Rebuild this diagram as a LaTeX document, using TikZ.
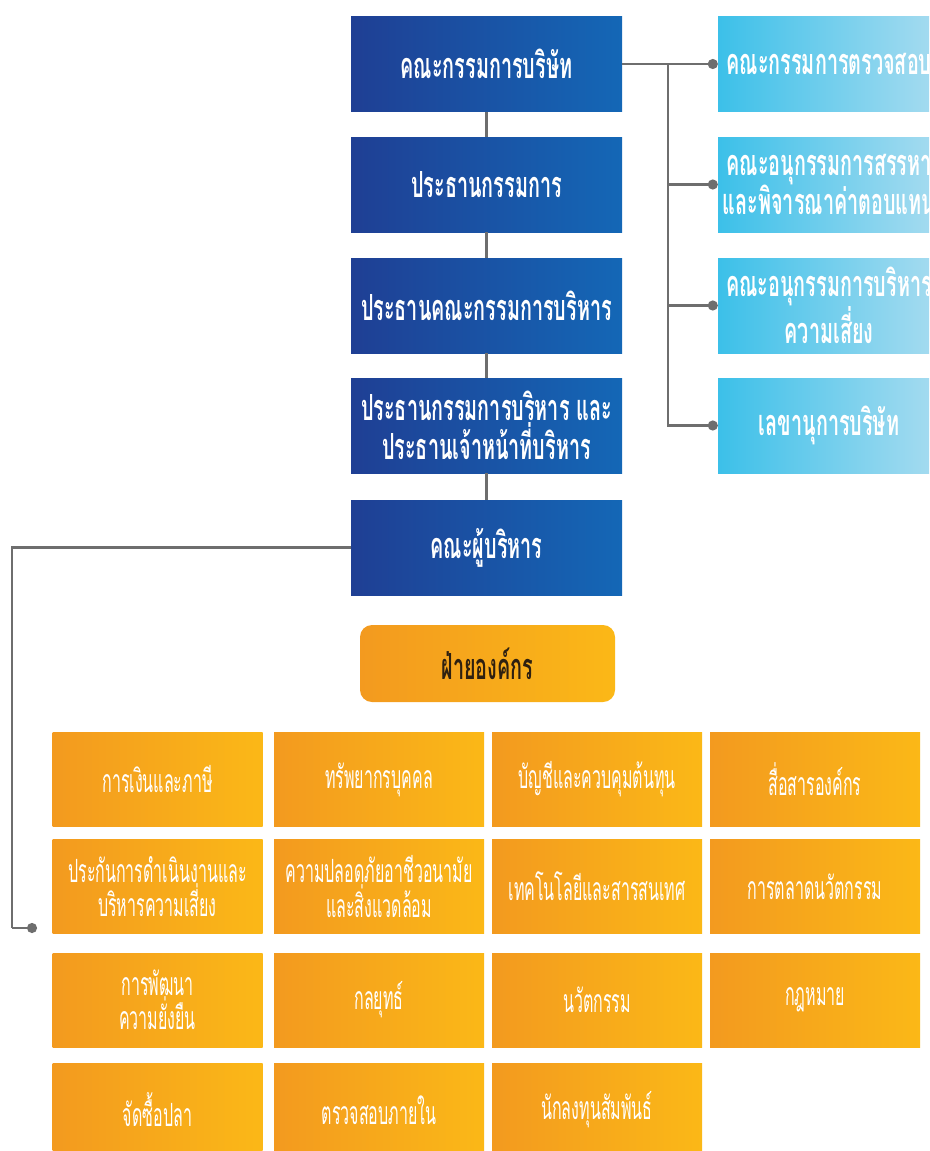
\documentclass[tikz,border=0pt]{standalone}
\usepackage{fontspec}
\newfontfamily\thfont[Script=Thai,FakeStretch=0.55]{Loma}
\newfontfamily\thlight[Script=Thai,FakeStretch=0.5]{Loma}
\usetikzlibrary{arrows.meta}
\definecolor{bl}{HTML}{1F3F94}
\definecolor{br}{HTML}{1467B6}
\definecolor{cl}{HTML}{3CC0E9}
\definecolor{cr}{HTML}{A8DCF0}
\definecolor{ol}{HTML}{F39A1F}
\definecolor{orr}{HTML}{FBB817}
\definecolor{ln}{HTML}{6E6E6E}
\definecolor{dk}{HTML}{2E2010}
\tikzset{
  bluebox/.style={minimum width=271pt,minimum height=95pt,inner sep=0pt,
    left color=bl,right color=br,text=white,align=center,
    font=\thfont\bfseries\fontsize{36}{39}\selectfont},
  cyanbox/.style={minimum width=222pt,minimum height=95pt,inner sep=0pt,
    left color=cl,right color=cr,text=white,align=center,
    font=\thfont\bfseries\fontsize{36}{36}\selectfont},
  orbox/.style={minimum width=210pt,minimum height=94pt,inner sep=0pt,
    left color=ol,right color=orr,text=white,align=center,
    font=\thlight\fontsize{32}{30}\selectfont},
  headbox/.style={minimum width=255pt,minimum height=77pt,inner sep=0pt,
    rounded corners=12pt,left color=ol,right color=orr,text=dk,align=center,
    font=\thfont\bfseries\fontsize{36}{36}\selectfont},
  conn/.style={draw=ln,line width=2.5pt},
  dotend/.style={conn,-{Circle[length=10pt,width=10pt]}}
}
\begin{document}
\begin{tikzpicture}[x=1pt,y=-1pt]
\useasboundingbox (0,0) rectangle (929,1151);
\clip (0,0) rectangle (929,1151);
% blue chain
\node[bluebox] (b1) at (486.5,64) {คณะกรรมการบริษัท};
\node[bluebox] (b2) at (486.5,184.5) {ประธานกรรมการ};
\node[bluebox] (b3) at (486.5,305.5) {ประธานคณะกรรมการบริหาร};
\node[bluebox] (b4) at (486.5,425.5) {ประธานกรรมการบริหาร และ\\ประธานเจ้าหน้าที่บริหาร};
\node[bluebox] (b5) at (486.5,547.5) {คณะผู้บริหาร};
% cyan committees
\node[cyanbox] (la) at (829,64) {คณะกรรมการตรวจสอบ};
\node[cyanbox] (lb) at (829,184.5) {คณะอนุกรรมการสรรหา\\และพิจารณาค่าตอบแทน};
\node[cyanbox] (lc) at (829,305.5) {คณะอนุกรรมการบริหาร\\ความเสี่ยง};
\node[cyanbox] (ld) at (829,425.5) {เลขานุการบริษัท};
% header
\node[headbox] (h) at (487.5,663.5) {ฝ่ายองค์กร};
% grid
\node[orbox] (g11) at (157.5,779.5) {การเงินและภาษี};
\node[orbox] (g12) at (379,779.5) {ทรัพยากรบุคคล};
\node[orbox] (g13) at (597,779.5) {บัญชีและควบคุมต้นทุน};
\node[orbox] (g14) at (815,779.5) {สื่อสารองค์กร};
\node[orbox] (g21) at (157.5,886.5) {ประกันการดำเนินงานและ\\บริหารความเสี่ยง};
\node[orbox] (g22) at (379,886.5) {ความปลอดภัยอาชีวอนามัย\\และสิ่งแวดล้อม};
\node[orbox] (g23) at (597,886.5) {เทคโนโลยีและสารสนเทศ};
\node[orbox] (g24) at (815,886.5) {การตลาดนวัตกรรม};
\node[orbox] (g31) at (157.5,1000) {การพัฒนา\\ความยั่งยืน};
\node[orbox] (g32) at (379,1000) {กลยุทธ์};
\node[orbox] (g33) at (597,1000) {นวัตกรรม};
\node[orbox] (g34) at (815,1000) {กฎหมาย};
\node[orbox] (g41) at (157.5,1110) {จัดซื้อปลา};
\node[orbox] (g42) at (379,1110) {ตรวจสอบภายใน};
\node[orbox] (g43) at (597,1110) {นักลงทุนสัมพันธ์};
% connectors
\draw[conn] (b1.south) -- (b2.north);
\draw[conn] (b2.south) -- (b3.north);
\draw[conn] (b3.south) -- (b4.north);
\draw[conn] (b4.south) -- (b5.north);
\coordinate (j) at (668,64);
\draw[dotend] (b1.east) -- (la.west);
\draw[dotend] (j) |- (lb.west);
\draw[dotend] (j) |- (lc.west);
\draw[dotend] (j) |- (ld.west);
\coordinate (k) at (12,928);
\coordinate (ke) at (37,928);
\draw[conn] (b5.west) -| (k);
\draw[dotend] (k) -- (ke);
\end{tikzpicture}
\end{document}
